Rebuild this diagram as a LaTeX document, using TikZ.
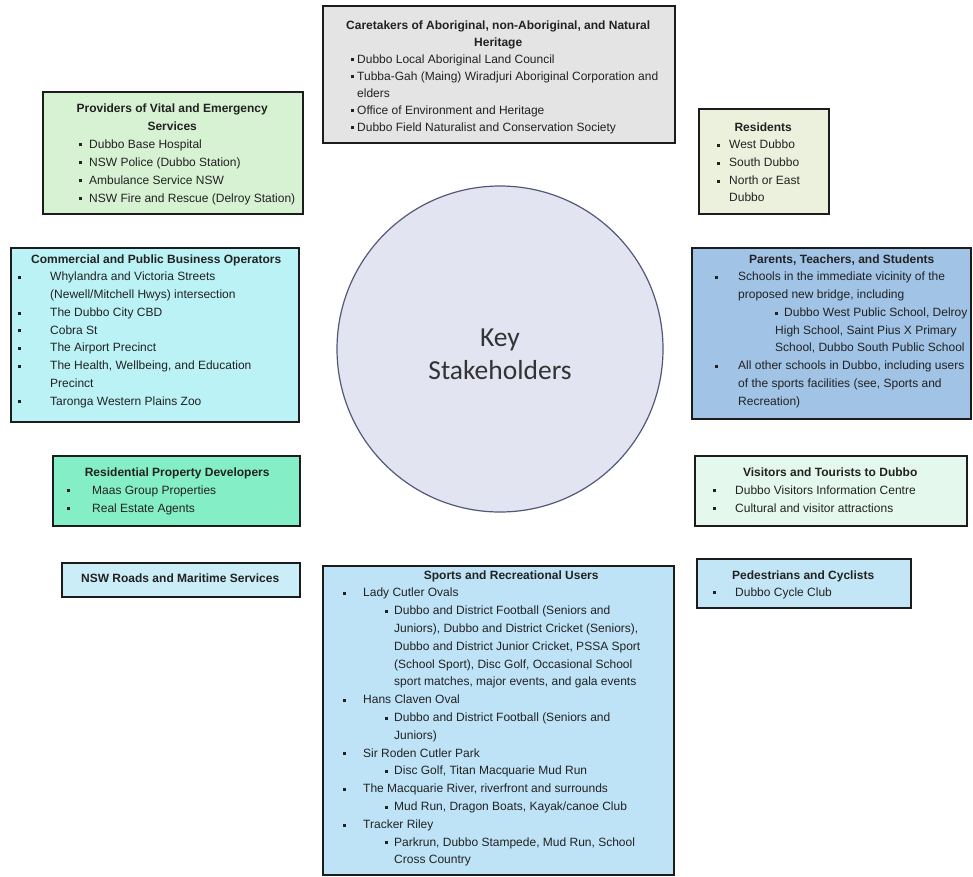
\documentclass[tikz,border=0pt]{standalone}
\usepackage{fontspec}
\setmainfont{Liberation Sans}
\newfontfamily\carlito{Carlito}
\definecolor{bline}{HTML}{1C1C1C}
\definecolor{txt}{HTML}{222222}
\definecolor{cCare}{HTML}{E4E4E4}
\definecolor{cProv}{HTML}{D7F1D3}
\definecolor{cRes}{HTML}{EBF1DD}
\definecolor{cComm}{HTML}{BAF2F5}
\definecolor{cPar}{HTML}{A0C3E6}
\definecolor{cRpd}{HTML}{84EEC6}
\definecolor{cNsw}{HTML}{CBEDF8}
\definecolor{cVis}{HTML}{E4F8EE}
\definecolor{cPed}{HTML}{C3E6F7}
\definecolor{cSpt}{HTML}{BEE3F7}
\definecolor{cCirc}{HTML}{E3E4F1}
\definecolor{circline}{HTML}{505A78}
\definecolor{keytxt}{HTML}{333333}
\newcommand\ttl[2][0]{\par\noindent\hbox to\bw{\hss\kern#1pt\bfseries #2\kern-#1pt\hss}\par}
\newcommand\bj[4]{\par{\leftskip=#3pt\relax\noindent\hskip\dimexpr#1pt-#3pt-1.5pt\relax\rule[1.6pt]{3pt}{3pt}\hskip\dimexpr#2pt-#1pt-1.5pt\relax #4\par}}
\newcommand\bi[3]{\bj{#1}{#2}{#2}{#3}}
\newcommand\tbox[3]{\parbox[t]{\dimexpr#1pt+80pt\relax}{\fontsize{12}{#2}\selectfont\def\bw{#1pt}\rightskip=0pt plus 1fil\relax\parindent=0pt #3}}
\begin{document}
\begin{tikzpicture}[x=1pt,y=-1pt,
  sbox/.style={rectangle,draw=bline,line width=1.5pt,anchor=north west,inner sep=0pt},
  tb/.style={anchor=base west,inner sep=0pt,text=txt}]
\useasboundingbox (0,0) rectangle (973,876);
\fill[white] (0,0) rectangle (973,876);

% central circle
\node[circle,draw=circline,line width=1.2pt,fill=cCirc,minimum size=326] (key) at (500,349) {};
\node[text=keytxt,align=center,font=\carlito\fontsize{27.5}{33}\selectfont] (key-t) at (500,354) {Key\\Stakeholders};

% Caretakers
\node[sbox,fill=cCare,minimum width=352,minimum height=137] (care) at (322,5) {};
\node[tb] (care-t) at (322,29) {\tbox{352}{17}{%
  \ttl{Caretakers of Aboriginal, non-Aboriginal, and Natural}
  \ttl{Heritage}
  \bi{30}{35}{Dubbo Local Aboriginal Land Council}
  \bi{30}{35}{Tubba-Gah (Maing) Wiradjuri Aboriginal Corporation and\\elders}
  \bi{30}{35}{Office of Environment and Heritage}
  \bi{30}{35}{Dubbo Field Naturalist and Conservation Society}}};

% Providers
\node[sbox,fill=cProv,minimum width=260,minimum height=122] (prov) at (42,91) {};
\node[tb] (prov-t) at (42,112) {\tbox{260}{18}{%
  \ttl{Providers of Vital and Emergency}
  \ttl{Services}
  \bi{38}{47}{Dubbo Base Hospital}
  \bi{38}{47}{NSW Police (Dubbo Station)}
  \bi{38}{47}{Ambulance Service NSW}
  \bi{38}{47}{NSW Fire and Rescue (Delroy Station)}}};

% Residents
\node[sbox,fill=cRes,minimum width=130,minimum height=105] (res) at (698,108) {};
\node[tb] (res-t) at (698,131) {\tbox{130}{17.7}{%
  \ttl{Residents}
  \bi{20}{31}{West Dubbo}
  \bi{20}{31}{South Dubbo}
  \bi{20}{31}{North or East\\Dubbo}}};

% Commercial
\node[sbox,fill=cComm,minimum width=288,minimum height=174] (comm) at (10,247) {};
\node[tb] (comm-t) at (10,263) {\tbox{288}{17.75}{%
  \ttl[2]{Commercial and Public Business Operators}
  \bi{9}{40}{Whylandra and Victoria Streets\\(Newell/Mitchell Hwys) intersection}
  \bi{9}{40}{The Dubbo City CBD}
  \bi{9}{40}{Cobra St}
  \bi{9}{40}{The Airport Precinct}
  \bi{9}{40}{The Health, Wellbeing, and Education\\Precinct}
  \bi{9}{40}{Taronga Western Plains Zoo}}};

% Parents
\node[sbox,fill=cPar,minimum width=279,minimum height=171] (par) at (691,247) {};
\node[tb] (par-t) at (691,263) {\tbox{279}{17.75}{%
  \ttl[11]{Parents, Teachers, and Students}
  \bi{25}{47}{Schools in the immediate vicinity of the\\proposed new bridge, including}
  \bj{85}{93}{84}{Dubbo West Public School, Delroy\\High School, Saint Pius X Primary\\School, Dubbo South Public School}
  \bi{25}{47}{All other schools in Dubbo, including users\\of the sports facilities (see, Sports and\\Recreation)}}};

% Residential Property Developers
\node[sbox,fill=cRpd,minimum width=247,minimum height=70] (rpd) at (52,455) {};
\node[tb] (rpd-t) at (52,476) {\tbox{247}{18}{%
  \ttl[1.5]{Residential Property Developers}
  \bi{16}{40}{Maas Group Properties}
  \bi{16}{40}{Real Estate Agents}}};

% NSW Roads
\node[sbox,fill=cNsw,minimum width=238,minimum height=34] (nsw) at (61,562) {};
\node[tb] (nsw-t) at (61,582) {\tbox{238}{18}{%
  \ttl{NSW Roads and Maritime Services}}};

% Visitors
\node[sbox,fill=cVis,minimum width=272,minimum height=70] (vis) at (694,455) {};
\node[tb] (vis-t) at (694,476) {\tbox{272}{18}{%
  \ttl{Visitors and Tourists to Dubbo}
  \bi{20}{41}{Dubbo Visitors Information Centre}
  \bi{20}{41}{Cultural and visitor attractions}}};

% Pedestrians
\node[sbox,fill=cPed,minimum width=214,minimum height=49] (ped) at (696,558) {};
\node[tb] (ped-t) at (696,579) {\tbox{214}{17}{%
  \ttl{Pedestrians and Cyclists}
  \bi{18}{39}{Dubbo Cycle Club}}};

% Sports
\node[sbox,fill=cSpt,minimum width=351,minimum height=309] (spt) at (322,565) {};
\node[tb] (spt-t) at (322,579) {\tbox{351}{17.8}{%
  \ttl[13.5]{Sports and Recreational Users}
  \bi{22}{41}{Lady Cutler Ovals}
  \bi{64}{72}{Dubbo and District Football (Seniors and\\Juniors), Dubbo and District Cricket (Seniors),\\Dubbo and District Junior Cricket, PSSA Sport\\(School Sport), Disc Golf, Occasional School\\sport matches, major events, and gala events}
  \bi{22}{41}{Hans Claven Oval}
  \bi{64}{72}{Dubbo and District Football (Seniors and\\Juniors)}
  \bi{22}{41}{Sir Roden Cutler Park}
  \bi{64}{72}{Disc Golf, Titan Macquarie Mud Run}
  \bi{22}{41}{The Macquarie River, riverfront and surrounds}
  \bi{64}{72}{Mud Run, Dragon Boats, Kayak/canoe Club}
  \bi{22}{41}{Tracker Riley}
  \bi{64}{72}{Parkrun, Dubbo Stampede, Mud Run, School\\Cross Country}}};
\end{tikzpicture}
\end{document}
